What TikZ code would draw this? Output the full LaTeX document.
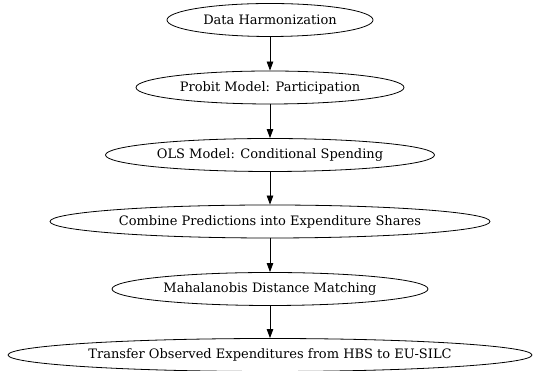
\documentclass[tikz,border=0pt]{standalone}
\usepackage{fontspec}
\setmainfont{DejaVu Serif}
\usetikzlibrary{shapes.geometric,arrows.meta}

\tikzset{
  etape/.style={draw,ellipse,line width=0.8pt,inner sep=0pt,minimum height=33pt,font=\fontsize{13}{15}\selectfont},
  fleche/.style={->,line width=0.8pt}
}

\begin{document}
\begin{tikzpicture}[line cap=round,line join=round,>={Triangle[length=9pt,width=6.5pt]},x=1pt,y=1pt]
		\useasboundingbox (0,0) rectangle (536,371);
		% Etage 1
		\node[etape,minimum width=206pt] (harmo) at (270,351) {Data Harmonization};
		% Etage 2
		\node[etape,minimum width=268pt] (probit) at (270,283.5) {Probit Model: Participation};
		% Etage 3
		\node[etape,minimum width=329pt] (ols) at (270,216) {OLS Model: Conditional Spending};
		% Etage 4
		\node[etape,minimum width=440pt] (combine) at (270,149.5) {Combine Predictions into Expenditure Shares};
		% Etage 5
		\node[etape,minimum width=316pt] (mahala) at (270,82) {Mahalanobis Distance Matching};
		% Etage 6
		\node[etape,minimum width=524pt] (transfer) at (270,16) {Transfer Observed Expenditures from HBS to EU-SILC};
		%fleches
		\draw[fleche] (harmo)--(probit);
		\draw[fleche] (probit)--(ols);
		\draw[fleche] (ols)--(combine);
		\draw[fleche] (combine)--(mahala);
		\draw[fleche] (mahala)--(transfer);
\end{tikzpicture}
\end{document}
